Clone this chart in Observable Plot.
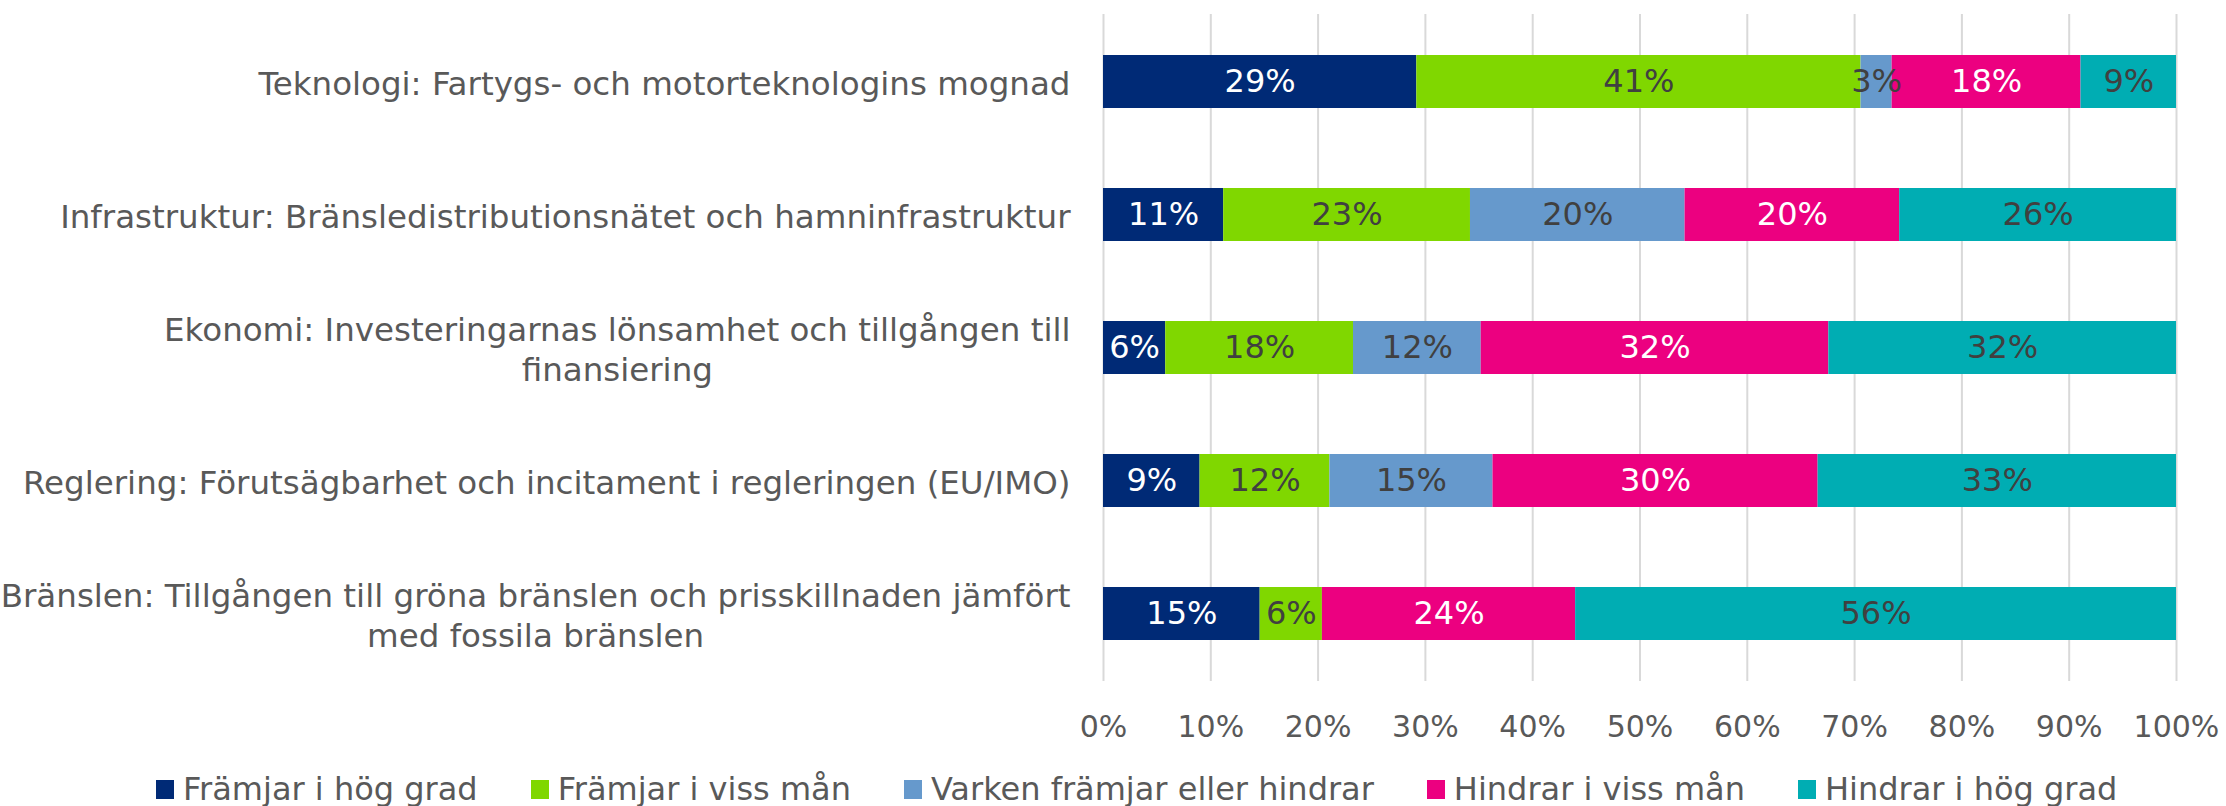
<!DOCTYPE html>
<html>
<head>
<meta charset="utf-8">
<script src="https://cdn.jsdelivr.net/npm/d3@7"></script>
<script src="https://cdn.jsdelivr.net/npm/@observablehq/plot@0.6"></script>
<style>
  html, body { margin: 0; padding: 0; background: #fff; }
  #wrap { position: relative; width: 2226px; height: 806px; font-family: Verdana, "DejaVu Sans", sans-serif; }
  #legend { position: absolute; left: 156px; top: 770px; display: flex; align-items: center; color: #595959; font-size: 32px; white-space: nowrap; }
  .item { display: flex; align-items: center; margin-right: 53px; }
  .sw { width: 18px; height: 19px; margin-right: 9px; }
</style>
</head>
<body>
<div id="wrap"><div id="chart"></div><div id="legend"></div></div>
<script>
const categories = [
  "Teknologi: Fartygs- och motorteknologins mognad",
  "Infrastruktur: Bränsledistributionsnätet och hamninfrastruktur",
  "Ekonomi: Investeringarnas lönsamhet och tillgången till\nfinansiering",
  "Reglering: Förutsägbarhet och incitament i regleringen (EU/IMO)",
  "Bränslen: Tillgången till gröna bränslen och prisskillnaden jämfört\nmed fossila bränslen"
];
const series = [
  "Främjar i hög grad",
  "Främjar i viss mån",
  "Varken främjar eller hindrar",
  "Hindrar i viss mån",
  "Hindrar i hög grad"
];
const colors = ["#002A76", "#80D700", "#6699CC", "#EC0080", "#00ADB3"];
const labelColors = ["#ffffff", "#404040", "#404040", "#ffffff", "#404040"];
// values per series, in category order (percent)
const framjarHog   = [29.2, 11.2, 5.8, 9.0, 14.6];
const framjarViss  = [41.4, 23.0, 17.5, 12.1, 5.8];
const varken       = [2.9, 20.0, 11.9, 15.2, 0];
const hindrarViss  = [17.6, 20.0, 32.4, 30.3, 23.6];
const hindrarHog   = [8.9, 25.8, 32.4, 33.4, 56.0];
const xTicks = [0, 10, 20, 30, 40, 50, 60, 70, 80, 90, 100];

const valueSets = [framjarHog, framjarViss, varken, hindrarViss, hindrarHog];
const data = [];
series.forEach((s, si) => {
  categories.forEach((c, ci) => {
    data.push({cat: c, series: s, si, value: valueSets[si][ci]});
  });
});

const font = 'Verdana, "DejaVu Sans", sans-serif';
const textOpts = (which) => Plot.stackX({
  x: "value", y: "cat", z: "series",
  text: d => (d.value > 0 && labelColors[d.si] === which) ? Math.round(d.value) + "%" : "",
  fill: which, fontSize: 32, textAnchor: "middle"
});

const chart = Plot.plot({
  width: 2226,
  height: 758,
  marginTop: 14,
  marginBottom: 77,
  marginLeft: 1103,
  marginRight: 50,
  style: {fontFamily: font, background: "#fff", color: "#595959"},
  x: {domain: [0, 100]},
  y: {domain: categories, paddingInner: 0.6, paddingOuter: 0.3},
  color: {domain: series, range: colors},
  marks: [
    Plot.gridX(xTicks, {stroke: "#D9D9D9", strokeOpacity: 1, strokeWidth: 2}),
    Plot.barX(data, {x: "value", y: "cat", fill: "series", order: series}),
    Plot.text(data, textOpts("#ffffff")),
    Plot.text(data, textOpts("#404040")),
    Plot.axisX({ticks: xTicks, tickSize: 0, tickPadding: 34, fontSize: 30, tickFormat: d => d + "%", fill: "#595959", label: null}),
    Plot.axisY({tickSize: 0, tickPadding: 33, fontSize: 32.5, fill: "#595959", lineHeight: 1.25, label: null})
  ]
});
document.getElementById("chart").appendChild(chart);

// center-align wrapped category labels inside a right-aligned block
chart.querySelectorAll('g[aria-label="y-axis tick label"] text').forEach(t => {
  const spans = t.querySelectorAll("tspan");
  if (spans.length > 1) {
    const w = t.getBBox().width;
    t.setAttribute("text-anchor", "middle");
    const tr = t.getAttribute("transform") || "";
    t.setAttribute("transform", tr + ` translate(${-w / 2},0)`);
  }
});

const legend = document.getElementById("legend");
series.forEach((s, i) => {
  const item = document.createElement("div");
  item.className = "item";
  const sw = document.createElement("div");
  sw.className = "sw";
  sw.style.background = colors[i];
  const tx = document.createElement("span");
  tx.textContent = s;
  item.appendChild(sw);
  item.appendChild(tx);
  legend.appendChild(item);
});
</script>
</body>
</html>
